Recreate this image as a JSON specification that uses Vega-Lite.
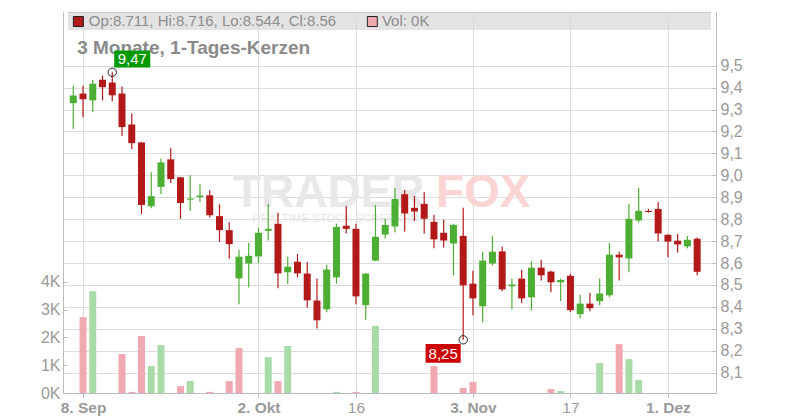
{
  "$schema": "https://vega.github.io/schema/vega-lite/v6.json",
  "width": 653,
  "height": 381,
  "autosize": {"type": "none"},
  "padding": {"left": 63, "top": 12, "right": 84, "bottom": 27},
  "background": "white",
  "config": {"view": {"stroke": null}, "font": "Liberation Sans"},
  "datasets": {
    "candles": [
      {"i":0,"date":"2025-09-05","o":9.329,"h":9.409,"l":9.211,"c":9.364,"v":0,"vd":"up"},
      {"i":1,"date":"2025-09-08","o":9.373,"h":9.409,"l":9.265,"c":9.347,"v":2730,"vd":"down"},
      {"i":2,"date":"2025-09-09","o":9.342,"h":9.436,"l":9.288,"c":9.418,"v":3660,"vd":"up"},
      {"i":3,"date":"2025-09-10","o":9.436,"h":9.455,"l":9.342,"c":9.402,"v":0,"vd":"down"},
      {"i":4,"date":"2025-09-11","o":9.423,"h":9.47,"l":9.338,"c":9.365,"v":0,"vd":"down"},
      {"i":5,"date":"2025-09-12","o":9.373,"h":9.405,"l":9.179,"c":9.22,"v":1400,"vd":"down"},
      {"i":6,"date":"2025-09-15","o":9.232,"h":9.282,"l":9.12,"c":9.147,"v":40,"vd":"down"},
      {"i":7,"date":"2025-09-16","o":9.15,"h":9.152,"l":8.824,"c":8.865,"v":2050,"vd":"down"},
      {"i":8,"date":"2025-09-17","o":8.859,"h":9.014,"l":8.85,"c":8.905,"v":970,"vd":"up"},
      {"i":9,"date":"2025-09-18","o":8.947,"h":9.077,"l":8.915,"c":9.059,"v":1720,"vd":"up"},
      {"i":10,"date":"2025-09-19","o":9.073,"h":9.123,"l":8.965,"c":8.983,"v":0,"vd":"down"},
      {"i":11,"date":"2025-09-22","o":8.991,"h":8.993,"l":8.802,"c":8.874,"v":250,"vd":"down"},
      {"i":12,"date":"2025-09-23","o":8.889,"h":9.0,"l":8.838,"c":8.894,"v":430,"vd":"up"},
      {"i":13,"date":"2025-09-24","o":8.901,"h":8.959,"l":8.879,"c":8.908,"v":0,"vd":"up"},
      {"i":14,"date":"2025-09-25","o":8.909,"h":8.932,"l":8.809,"c":8.818,"v":40,"vd":"down"},
      {"i":15,"date":"2025-09-26","o":8.814,"h":8.868,"l":8.697,"c":8.75,"v":0,"vd":"down"},
      {"i":16,"date":"2025-09-29","o":8.75,"h":8.786,"l":8.62,"c":8.686,"v":430,"vd":"down"},
      {"i":17,"date":"2025-09-30","o":8.53,"h":8.661,"l":8.412,"c":8.629,"v":1620,"vd":"down"},
      {"i":18,"date":"2025-10-01","o":8.598,"h":8.692,"l":8.489,"c":8.633,"v":0,"vd":"up"},
      {"i":19,"date":"2025-10-02","o":8.63,"h":8.761,"l":8.598,"c":8.738,"v":0,"vd":"up"},
      {"i":20,"date":"2025-10-03","o":8.747,"h":8.87,"l":8.703,"c":8.756,"v":1290,"vd":"up"},
      {"i":21,"date":"2025-10-06","o":8.779,"h":8.829,"l":8.485,"c":8.553,"v":430,"vd":"down"},
      {"i":22,"date":"2025-10-07","o":8.558,"h":8.629,"l":8.503,"c":8.583,"v":1690,"vd":"up"},
      {"i":23,"date":"2025-10-08","o":8.606,"h":8.642,"l":8.535,"c":8.553,"v":0,"vd":"down"},
      {"i":24,"date":"2025-10-09","o":8.552,"h":8.605,"l":8.397,"c":8.43,"v":0,"vd":"down"},
      {"i":25,"date":"2025-10-10","o":8.429,"h":8.529,"l":8.302,"c":8.339,"v":0,"vd":"down"},
      {"i":26,"date":"2025-10-13","o":8.389,"h":8.592,"l":8.376,"c":8.57,"v":0,"vd":"up"},
      {"i":27,"date":"2025-10-14","o":8.535,"h":8.78,"l":8.506,"c":8.765,"v":40,"vd":"up"},
      {"i":28,"date":"2025-10-15","o":8.77,"h":8.861,"l":8.735,"c":8.756,"v":0,"vd":"down"},
      {"i":29,"date":"2025-10-16","o":8.756,"h":8.779,"l":8.412,"c":8.448,"v":40,"vd":"down"},
      {"i":30,"date":"2025-10-17","o":8.408,"h":8.554,"l":8.342,"c":8.552,"v":0,"vd":"up"},
      {"i":31,"date":"2025-10-20","o":8.611,"h":8.865,"l":8.609,"c":8.72,"v":2410,"vd":"up"},
      {"i":32,"date":"2025-10-21","o":8.73,"h":8.802,"l":8.712,"c":8.774,"v":0,"vd":"up"},
      {"i":33,"date":"2025-10-22","o":8.767,"h":8.942,"l":8.739,"c":8.892,"v":0,"vd":"up"},
      {"i":34,"date":"2025-10-23","o":8.914,"h":8.933,"l":8.744,"c":8.826,"v":0,"vd":"down"},
      {"i":35,"date":"2025-10-24","o":8.852,"h":8.906,"l":8.792,"c":8.835,"v":0,"vd":"up"},
      {"i":36,"date":"2025-10-27","o":8.87,"h":8.924,"l":8.735,"c":8.802,"v":0,"vd":"down"},
      {"i":37,"date":"2025-10-28","o":8.788,"h":8.82,"l":8.667,"c":8.708,"v":970,"vd":"down"},
      {"i":38,"date":"2025-10-29","o":8.738,"h":8.797,"l":8.671,"c":8.703,"v":0,"vd":"down"},
      {"i":39,"date":"2025-10-30","o":8.689,"h":8.779,"l":8.544,"c":8.774,"v":0,"vd":"up"},
      {"i":40,"date":"2025-10-31","o":8.724,"h":8.852,"l":8.25,"c":8.498,"v":180,"vd":"down"},
      {"i":41,"date":"2025-11-03","o":8.506,"h":8.565,"l":8.362,"c":8.439,"v":400,"vd":"down"},
      {"i":42,"date":"2025-11-04","o":8.403,"h":8.652,"l":8.33,"c":8.611,"v":0,"vd":"up"},
      {"i":43,"date":"2025-11-05","o":8.598,"h":8.724,"l":8.589,"c":8.652,"v":0,"vd":"up"},
      {"i":44,"date":"2025-11-06","o":8.653,"h":8.674,"l":8.471,"c":8.48,"v":0,"vd":"down"},
      {"i":45,"date":"2025-11-07","o":8.494,"h":8.529,"l":8.389,"c":8.502,"v":0,"vd":"up"},
      {"i":46,"date":"2025-11-10","o":8.529,"h":8.57,"l":8.417,"c":8.439,"v":0,"vd":"down"},
      {"i":47,"date":"2025-11-11","o":8.444,"h":8.608,"l":8.385,"c":8.579,"v":0,"vd":"up"},
      {"i":48,"date":"2025-11-12","o":8.579,"h":8.615,"l":8.521,"c":8.544,"v":0,"vd":"down"},
      {"i":49,"date":"2025-11-13","o":8.561,"h":8.565,"l":8.467,"c":8.512,"v":140,"vd":"down"},
      {"i":50,"date":"2025-11-14","o":8.512,"h":8.529,"l":8.427,"c":8.523,"v":70,"vd":"up"},
      {"i":51,"date":"2025-11-17","o":8.542,"h":8.551,"l":8.376,"c":8.385,"v":0,"vd":"down"},
      {"i":52,"date":"2025-11-18","o":8.367,"h":8.456,"l":8.348,"c":8.415,"v":0,"vd":"up"},
      {"i":53,"date":"2025-11-19","o":8.415,"h":8.465,"l":8.38,"c":8.394,"v":0,"vd":"down"},
      {"i":54,"date":"2025-11-20","o":8.426,"h":8.529,"l":8.408,"c":8.461,"v":1080,"vd":"up"},
      {"i":55,"date":"2025-11-21","o":8.453,"h":8.692,"l":8.444,"c":8.638,"v":0,"vd":"up"},
      {"i":56,"date":"2025-11-24","o":8.638,"h":8.652,"l":8.521,"c":8.626,"v":1760,"vd":"down"},
      {"i":57,"date":"2025-11-25","o":8.621,"h":8.87,"l":8.558,"c":8.802,"v":1220,"vd":"up"},
      {"i":58,"date":"2025-11-26","o":8.794,"h":8.942,"l":8.785,"c":8.838,"v":470,"vd":"up"},
      {"i":59,"date":"2025-11-27","o":8.838,"h":8.847,"l":8.83,"c":8.833,"v":0,"vd":"down"},
      {"i":60,"date":"2025-11-28","o":8.847,"h":8.879,"l":8.698,"c":8.735,"v":0,"vd":"down"},
      {"i":61,"date":"2025-12-01","o":8.729,"h":8.731,"l":8.626,"c":8.698,"v":0,"vd":"down"},
      {"i":62,"date":"2025-12-02","o":8.702,"h":8.733,"l":8.648,"c":8.685,"v":0,"vd":"down"},
      {"i":63,"date":"2025-12-03","o":8.676,"h":8.724,"l":8.667,"c":8.706,"v":0,"vd":"up"},
      {"i":64,"date":"2025-12-04","o":8.711,"h":8.716,"l":8.544,"c":8.56,"v":0,"vd":"down"}
    ],
    "ext": [
      {"i":4,"p":9.47,"lab":"9,47","kind":"max"},
      {"i":40,"p":8.25,"lab":"8,25","kind":"min"}
    ]
  },
  "layer": [
    {
      "data": {"name": "candles"},
      "mark": {"type": "bar", "width": 7},
      "encoding": {
        "x": {
          "field": "i", "type": "quantitative",
          "scale": {"domain": [-0.54, 65.42], "nice": false, "zero": false},
          "axis": {
            "orient": "bottom", "title": null,
            "values": [1, 19, 41, 61],
            "labelExpr": "datum.value == 1 ? '8. Sep' : datum.value == 19 ? '2. Okt' : datum.value == 41 ? '3. Nov' : '1. Dez'",
            "grid": true, "gridColor": "#dcdcdc",
            "domainColor": "#bbbbbb", "tickColor": "#bbbbbb", "tickSize": 4,
            "labelPadding": 3.5, "labelFontSize": 15.5, "labelColor": "#9a9a9a",
            "labelFontWeight": "bold"
          }
        },
        "y": {
          "field": "o", "type": "quantitative",
          "scale": {"domain": [8.0074, 9.7449], "nice": false, "zero": false},
          "axis": {
            "orient": "right", "title": null,
            "values": [8.1, 8.2, 8.3, 8.4, 8.5, 8.6, 8.7, 8.8, 8.9, 9.0, 9.1, 9.2, 9.3, 9.4, 9.5],
            "labelExpr": "replace(format(datum.value, '.1f'), '.', ',')",
            "grid": true, "gridColor": "#dcdcdc",
            "domainColor": "#bbbbbb", "tickColor": "#bbbbbb",
            "tickSize": -4, "labelPadding": 8, "labelFontSize": 16, "labelColor": "#9a9a9a"
          }
        },
        "y2": {"field": "o"},
        "opacity": {"value": 0}
      }
    },
    {
      "data": {"name": "candles"},
      "transform": [{"filter": "datum.v > 0"}],
      "mark": {"type": "bar", "width": 7},
      "encoding": {
        "x": {
          "field": "i", "type": "quantitative",
          "scale": {"domain": [-0.54, 65.42], "nice": false, "zero": false},
          "axis": {
            "orient": "bottom", "title": null,
            "values": [29, 51],
            "labelExpr": "datum.value == 29 ? '16' : '17'",
            "grid": true, "gridColor": "#dcdcdc",
            "domainColor": "#bbbbbb", "tickColor": "#bbbbbb", "tickSize": 4,
            "labelPadding": 3.5, "labelFontSize": 15.5, "labelColor": "#9a9a9a",
            "labelFontWeight": "normal"
          }
        },
        "y": {
          "field": "v", "type": "quantitative",
          "scale": {"domain": [0, 13700], "nice": false, "zero": true},
          "axis": {
            "orient": "left", "title": null,
            "values": [0, 1000, 2000, 3000, 4000],
            "labelExpr": "(datum.value / 1000) + 'K'",
            "grid": false, "domainColor": "#bbbbbb", "tickColor": "#bbbbbb",
            "tickSize": -4, "labelPadding": 7, "labelFontSize": 16, "labelColor": "#9a9a9a"
          }
        },
        "color": {
          "field": "vd", "type": "nominal",
          "scale": {"domain": ["up", "down"], "range": ["#a9dba9", "#f0a9b1"]},
          "legend": null
        }
      }
    },
    {
      "data": {"values": [{}]},
      "mark": {"type": "rect", "fill": "#d8d8d8", "opacity": 0.72},
      "encoding": {
        "x": {"datum": -0.54, "type": "quantitative", "scale": {"domain": [-0.54, 65.42], "nice": false, "zero": false}, "axis": null},
        "x2": {"datum": 65.42},
        "y": {"datum": 9.6628, "type": "quantitative", "scale": {"domain": [8.0074, 9.7449], "nice": false, "zero": false}, "axis": null},
        "y2": {"datum": 9.7449}
      }
    },
    {
      "data": {"values": [{}]},
      "mark": {"type": "rule", "color": "#c8c8c8", "strokeWidth": 1},
      "encoding": {
        "x": {"datum": -0.54, "type": "quantitative", "scale": {"domain": [-0.54, 65.42], "nice": false, "zero": false}, "axis": null},
        "x2": {"datum": 65.42},
        "y": {"datum": 9.743, "type": "quantitative", "scale": {"domain": [8.0074, 9.7449], "nice": false, "zero": false}, "axis": null}
      }
    },
    {
      "data": {"values": [{"t": "TRADER"}]},
      "mark": {"type": "text", "align": "right", "baseline": "alphabetic", "fontSize": 46, "fontWeight": "bold", "fill": "#e8e8e8"},
      "encoding": {
        "x": {"datum": 36.05, "type": "quantitative", "scale": {"domain": [-0.54, 65.42], "nice": false, "zero": false}, "axis": null},
        "y": {"datum": 8.857, "type": "quantitative", "scale": {"domain": [8.0074, 9.7449], "nice": false, "zero": false}, "axis": null},
        "text": {"field": "t"}
      }
    },
    {
      "data": {"values": [{"t": "FOX"}]},
      "mark": {"type": "text", "align": "left", "baseline": "alphabetic", "fontSize": 46, "fontWeight": "bold", "fill": "#fbd4d4"},
      "encoding": {
        "x": {"datum": 37.2, "type": "quantitative", "scale": {"domain": [-0.54, 65.42], "nice": false, "zero": false}, "axis": null},
        "y": {"datum": 8.857, "type": "quantitative", "scale": {"domain": [8.0074, 9.7449], "nice": false, "zero": false}, "axis": null},
        "text": {"field": "t"}
      }
    },
    {
      "data": {"values": [{"t": "REALTIME STOCK SCREENER"}]},
      "mark": {"type": "text", "align": "left", "baseline": "alphabetic", "fontSize": 11.5, "fill": "#e6e6e6"},
      "encoding": {
        "x": {"datum": 18.38, "type": "quantitative", "scale": {"domain": [-0.54, 65.42], "nice": false, "zero": false}, "axis": null},
        "y": {"datum": 8.787, "type": "quantitative", "scale": {"domain": [8.0074, 9.7449], "nice": false, "zero": false}, "axis": null},
        "text": {"field": "t"}
      }
    },
    {
      "data": {"values": [{"t": "3 Monate, 1-Tages-Kerzen"}]},
      "mark": {"type": "text", "align": "left", "baseline": "alphabetic", "fontSize": 19, "fontWeight": "bold", "fill": "#8a8a8a"},
      "encoding": {
        "x": {"datum": 0.40, "type": "quantitative", "scale": {"domain": [-0.54, 65.42], "nice": false, "zero": false}, "axis": null},
        "y": {"datum": 9.5534, "type": "quantitative", "scale": {"domain": [8.0074, 9.7449], "nice": false, "zero": false}, "axis": null},
        "text": {"field": "t"}
      }
    },
    {
      "data": {"name": "candles"},
      "mark": {"type": "rule", "strokeWidth": 1.2},
      "encoding": {
        "x": {"field": "i", "type": "quantitative", "scale": {"domain": [-0.54, 65.42], "nice": false, "zero": false}, "axis": null},
        "y": {"field": "l", "type": "quantitative", "scale": {"domain": [8.0074, 9.7449], "nice": false, "zero": false}, "axis": null},
        "y2": {"field": "h"},
        "color": {"condition": {"test": "datum.c >= datum.o", "value": "#4cae33"}, "value": "#b41919"}
      }
    },
    {
      "data": {"name": "candles"},
      "mark": {"type": "bar", "width": 7},
      "encoding": {
        "x": {"field": "i", "type": "quantitative", "scale": {"domain": [-0.54, 65.42], "nice": false, "zero": false}, "axis": null},
        "y": {"field": "o", "type": "quantitative", "scale": {"domain": [8.0074, 9.7449], "nice": false, "zero": false}, "axis": null},
        "y2": {"field": "c"},
        "color": {"condition": {"test": "datum.c >= datum.o", "value": "#4cae33"}, "value": "#b41919"}
      }
    },
    {
      "data": {"values": [{"k": "Op"}]},
      "mark": {"type": "point", "shape": "square", "size": 100, "filled": true, "fill": "#b41919", "stroke": "#222222", "strokeWidth": 1, "opacity": 1},
      "encoding": {
        "x": {"datum": 0.525, "type": "quantitative", "scale": {"domain": [-0.54, 65.42], "nice": false, "zero": false}, "axis": null},
        "y": {"datum": 9.7015, "type": "quantitative", "scale": {"domain": [8.0074, 9.7449], "nice": false, "zero": false}, "axis": null}
      }
    },
    {
      "data": {"values": [{"t": "Op:8.711, Hi:8.716, Lo:8.544, Cl:8.56"}]},
      "mark": {"type": "text", "align": "left", "baseline": "middle", "fontSize": 15, "fill": "#8c8c8c"},
      "encoding": {
        "x": {"datum": 1.59, "type": "quantitative", "scale": {"domain": [-0.54, 65.42], "nice": false, "zero": false}, "axis": null},
        "y": {"datum": 9.7038, "type": "quantitative", "scale": {"domain": [8.0074, 9.7449], "nice": false, "zero": false}, "axis": null},
        "text": {"field": "t"}
      }
    },
    {
      "data": {"values": [{"k": "Vol"}]},
      "mark": {"type": "point", "shape": "square", "size": 100, "filled": true, "fill": "#f0a9b1", "stroke": "#222222", "strokeWidth": 1, "opacity": 1},
      "encoding": {
        "x": {"datum": 30.68, "type": "quantitative", "scale": {"domain": [-0.54, 65.42], "nice": false, "zero": false}, "axis": null},
        "y": {"datum": 9.7015, "type": "quantitative", "scale": {"domain": [8.0074, 9.7449], "nice": false, "zero": false}, "axis": null}
      }
    },
    {
      "data": {"values": [{"t": "Vol: 0K"}]},
      "mark": {"type": "text", "align": "left", "baseline": "middle", "fontSize": 15, "fill": "#8c8c8c"},
      "encoding": {
        "x": {"datum": 31.66, "type": "quantitative", "scale": {"domain": [-0.54, 65.42], "nice": false, "zero": false}, "axis": null},
        "y": {"datum": 9.7038, "type": "quantitative", "scale": {"domain": [8.0074, 9.7449], "nice": false, "zero": false}, "axis": null},
        "text": {"field": "t"}
      }
    },
    {
      "data": {"name": "ext"},
      "mark": {"type": "point", "shape": "circle", "size": 70, "filled": false, "stroke": "#222222", "strokeWidth": 1, "opacity": 1},
      "encoding": {
        "x": {"field": "i", "type": "quantitative", "scale": {"domain": [-0.54, 65.42], "nice": false, "zero": false}, "axis": null},
        "y": {"field": "p", "type": "quantitative", "scale": {"domain": [8.0074, 9.7449], "nice": false, "zero": false}, "axis": null}
      }
    },
    {
      "data": {"name": "ext"},
      "transform": [{"filter": "datum.kind == 'max'"}],
      "mark": {"type": "point", "shape": "M0.11,-1.21H2.11V-0.27H0.11Z", "size": 1296, "filled": true, "fill": "#009a00", "strokeWidth": 0, "opacity": 1},
      "encoding": {
        "x": {"field": "i", "type": "quantitative", "scale": {"domain": [-0.54, 65.42], "nice": false, "zero": false}, "axis": null},
        "y": {"field": "p", "type": "quantitative", "scale": {"domain": [8.0074, 9.7449], "nice": false, "zero": false}, "axis": null}
      }
    },
    {
      "data": {"name": "ext"},
      "transform": [{"filter": "datum.kind == 'min'"}],
      "mark": {"type": "point", "shape": "M-2.09,0.24H-0.14V1.28H-2.09Z", "size": 1296, "filled": true, "fill": "#cc0000", "strokeWidth": 0, "opacity": 1},
      "encoding": {
        "x": {"field": "i", "type": "quantitative", "scale": {"domain": [-0.54, 65.42], "nice": false, "zero": false}, "axis": null},
        "y": {"field": "p", "type": "quantitative", "scale": {"domain": [8.0074, 9.7449], "nice": false, "zero": false}, "axis": null}
      }
    },
    {
      "data": {"name": "ext"},
      "transform": [{"filter": "datum.kind == 'max'"}],
      "mark": {"type": "text", "align": "center", "baseline": "middle", "dx": 20, "dy": -13.3, "fontSize": 15, "fill": "white"},
      "encoding": {
        "x": {"field": "i", "type": "quantitative", "scale": {"domain": [-0.54, 65.42], "nice": false, "zero": false}, "axis": null},
        "y": {"field": "p", "type": "quantitative", "scale": {"domain": [8.0074, 9.7449], "nice": false, "zero": false}, "axis": null},
        "text": {"field": "lab"}
      }
    },
    {
      "data": {"name": "ext"},
      "transform": [{"filter": "datum.kind == 'min'"}],
      "mark": {"type": "text", "align": "center", "baseline": "middle", "dx": -20, "dy": 13.7, "fontSize": 15, "fill": "white"},
      "encoding": {
        "x": {"field": "i", "type": "quantitative", "scale": {"domain": [-0.54, 65.42], "nice": false, "zero": false}, "axis": null},
        "y": {"field": "p", "type": "quantitative", "scale": {"domain": [8.0074, 9.7449], "nice": false, "zero": false}, "axis": null},
        "text": {"field": "lab"}
      }
    }
  ],
  "resolve": {"scale": {"y": "independent"}, "axis": {"y": "independent", "x": "independent"}}
}
